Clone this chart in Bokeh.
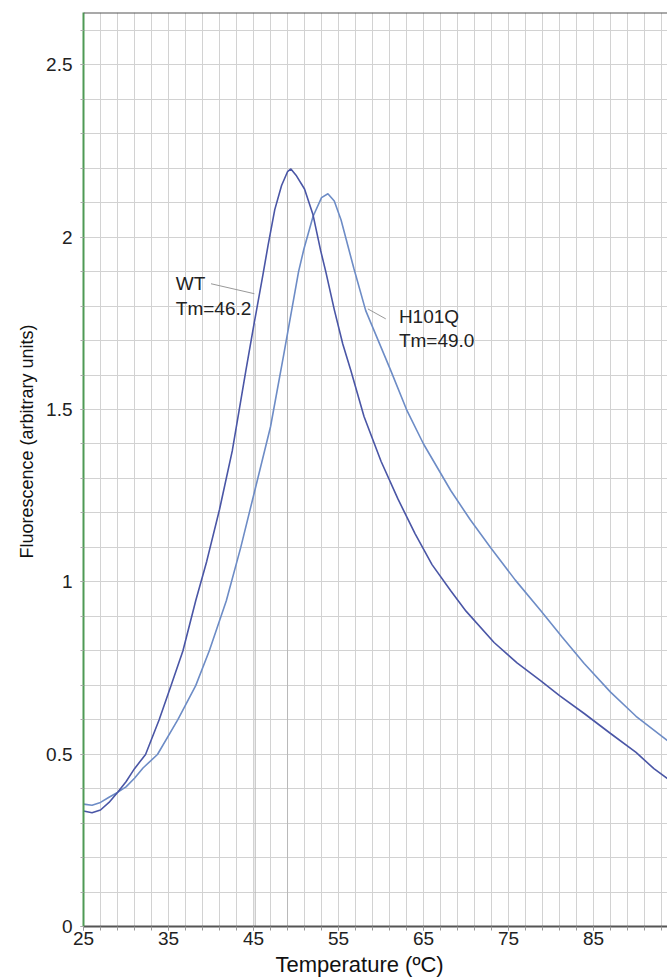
from bokeh.plotting import figure
from bokeh.models import (FixedTicker, Range1d, Title, Span, CustomJSTickFormatter)
from bokeh.core.properties import value
from bokeh.embed import file_html
from bokeh.resources import INLINE

# ---- data ----
wt_temp = [25.0, 26.0, 27.0, 28.0, 29.0, 30.0, 31.0, 32.3, 33.9, 35.3, 36.7, 38.2,
           39.5, 41.0, 42.5, 44.1, 45.0, 46.1, 46.7, 47.5, 48.3, 49.0, 49.4, 50.0,
           51.0, 52.0, 52.9, 53.5, 54.5, 55.5, 56.45, 58.0, 60.0, 62.0, 64.0, 66.0,
           68.2, 70.0, 73.3, 76.0, 78.8, 81.0, 83.9, 87.0, 90.0, 92.1, 93.7]
wt_fluor = [0.335, 0.330, 0.338, 0.360, 0.389, 0.420, 0.458, 0.499, 0.600, 0.699, 0.800, 0.945,
            1.060, 1.210, 1.380, 1.613, 1.740, 1.890, 1.975, 2.080, 2.150, 2.190, 2.198, 2.180,
            2.140, 2.065, 1.961, 1.900, 1.790, 1.690, 1.613, 1.480, 1.350, 1.240, 1.140, 1.050,
            0.974, 0.915, 0.824, 0.765, 0.713, 0.670, 0.618, 0.560, 0.505, 0.458, 0.429]

h101q_temp = [25.0, 26.0, 27.0, 28.0, 29.0, 30.0, 31.0, 32.0, 33.7, 36.1, 38.2, 39.8,
              41.8, 43.5, 45.0, 47.0, 48.56, 50.3, 50.92, 52.0, 53.0, 53.75, 54.5, 55.3,
              56.1, 56.8, 58.2, 61.15, 63.0, 65.0, 68.2, 70.5, 72.9, 75.8, 78.8, 81.3,
              83.9, 87.0, 90.0, 93.7]
h101q_fluor = [0.355, 0.352, 0.360, 0.375, 0.389, 0.405, 0.430, 0.460, 0.499, 0.600, 0.699, 0.800,
               0.945, 1.100, 1.250, 1.450, 1.660, 1.900, 1.965, 2.060, 2.115, 2.126, 2.105, 2.050,
               1.975, 1.910, 1.787, 1.613, 1.500, 1.400, 1.265, 1.180, 1.099, 1.005, 0.916, 0.840,
               0.763, 0.680, 0.610, 0.539]

tm_line_temp = [45.2, 49.0]
tm_line_top = [1.75, 2.19]

x_tick_values = [25, 35, 45, 55, 65, 75, 85]
y_tick_values = [0, 0.5, 1.0, 1.5, 2.0, 2.5]
x_grid_values = list(range(25, 95, 2))
y_grid_values = [round(i * 0.1, 1) for i in range(0, 27)]

FONT = "Liberation Sans"
Y_TOP = 2.652

p = figure(width=667, height=979, output_backend="svg", toolbar_location=None,
           x_range=Range1d(25, 93.7), y_range=Range1d(0, Y_TOP),
           min_border_left=83, min_border_right=0, min_border_top=12, min_border_bottom=53)
p.outline_line_color = None
p.background_fill_color = "white"
p.border_fill_color = "white"

# grid
p.xgrid.ticker = FixedTicker(ticks=x_grid_values)
p.ygrid.ticker = FixedTicker(ticks=y_grid_values)
p.xgrid.grid_line_color = "#d2d2d2"
p.ygrid.grid_line_color = "#d2d2d2"
p.xgrid.grid_line_width = 1
p.ygrid.grid_line_width = 1

# x axis
p.xaxis.ticker = FixedTicker(ticks=x_tick_values, minor_ticks=x_grid_values)
p.xaxis.axis_line_color = "#555555"
p.xaxis.axis_line_width = 2
p.xaxis.major_tick_line_color = "#999999"
p.xaxis.minor_tick_line_color = "#999999"
p.xaxis.major_tick_out = 4
p.xaxis.major_tick_in = 0
p.xaxis.minor_tick_out = 4
p.xaxis.minor_tick_in = 0
p.xaxis.major_label_standoff = 1
p.xaxis.major_label_text_font = FONT
p.xaxis.major_label_text_font_size = "19px"
p.xaxis.major_label_text_color = "#222222"

# y axis
p.yaxis.ticker = FixedTicker(ticks=y_tick_values, minor_ticks=y_grid_values)
p.yaxis.formatter = CustomJSTickFormatter(code="return String(Math.round(tick*10)/10);")
p.yaxis.axis_line_color = "#4f9a55"
p.yaxis.axis_line_width = 2
p.yaxis.major_tick_line_color = "#aaaaaa"
p.yaxis.minor_tick_line_color = "#aaaaaa"
p.yaxis.major_tick_out = 3
p.yaxis.major_tick_in = 0
p.yaxis.minor_tick_out = 3
p.yaxis.minor_tick_in = 0
p.yaxis.major_label_standoff = 8
p.yaxis.major_label_text_font = FONT
p.yaxis.major_label_text_font_size = "19px"
p.yaxis.major_label_text_color = "#222222"

# top border
p.add_layout(Span(location=Y_TOP, dimension="width", line_color="#555555", line_width=2))

# axis titles
p.add_layout(Title(text="Temperature (ºC)", align="left", offset=192, standoff=4,
                   text_font=FONT, text_font_size="22px", text_font_style="normal",
                   text_color="#111111"), "below")
p.add_layout(Title(text="Fluorescence (arbitrary units)", align="left", offset=368, standoff=14,
                   text_font=FONT, text_font_size="18px", text_font_style="normal",
                   text_color="#111111"), "left")

# Tm marker lines
p.segment(x0=tm_line_temp, y0=[0, 0], x1=tm_line_temp, y1=tm_line_top,
          line_color="#b8b8b8", line_width=1)

# curves
p.line(h101q_temp, h101q_fluor, line_color="#6d8cc6", line_width=1.6)
p.line(wt_temp, wt_fluor, line_color="#4a56a6", line_width=1.6)

# annotations
p.segment(x0=[40.0, 58.45], y0=[1.865, 1.792], x1=[45.1, 60.56], y1=[1.836, 1.763],
          line_color="#999999", line_width=1)
p.text(x=[35.86, 35.86], y=[1.865, 1.792], text=["WT", "Tm=46.2"],
       text_font=value(FONT), text_font_size="19px", text_baseline="middle",
       text_align="left", text_color="#222222")
p.text(x=[62.1, 62.1], y=[1.769, 1.700], text=["H101Q", "Tm=49.0"],
       text_font=value(FONT), text_font_size="19px", text_baseline="middle",
       text_align="left", text_color="#222222")

open("out.html", "w").write(file_html(p, INLINE))
